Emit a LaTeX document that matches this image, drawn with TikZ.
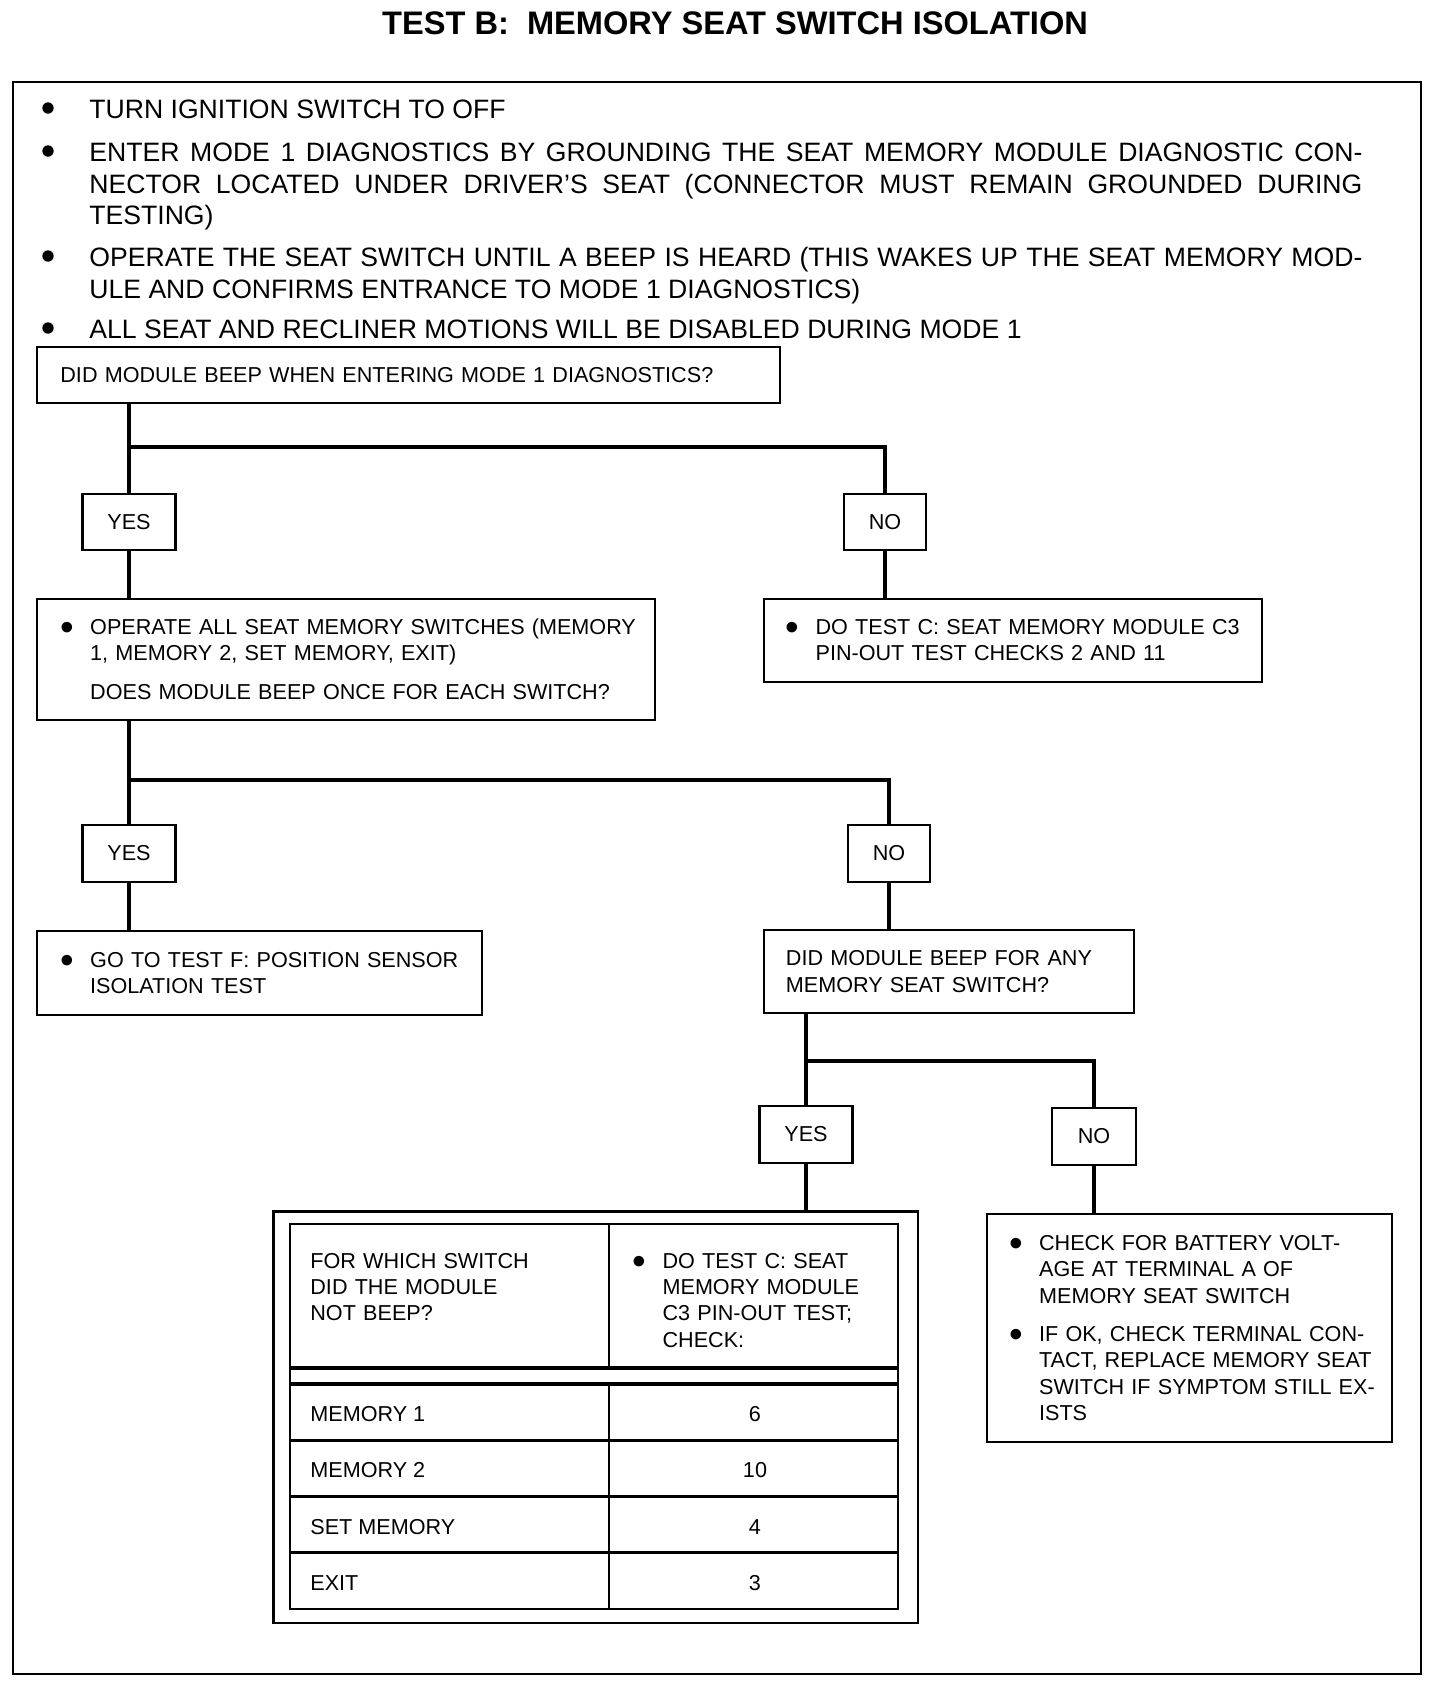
\documentclass[tikz,border=0pt]{standalone}
\usepackage{fontspec}
\setmainfont{Liberation Sans}
\usetikzlibrary{positioning}

\newcommand{\titlefont}{\fontsize{16.3}{19}\selectfont\bfseries}
\newcommand{\listfont}{\fontsize{13.3}{15.8}\selectfont\tolerance=9999\hyphenpenalty=10000\relax}
\newcommand{\boxfont}{\fontsize{10.8}{13.2}\selectfont}
\newcommand{\blob}{\raisebox{-0.28em}{\scalebox{1.8}{\textbullet}}}
\newlength{\bulw}
\setlength{\bulw}{15pt}
\newcommand{\bul}{\makebox[\bulw][l]{\blob}}
\newcommand{\ind}{\hspace*{\bulw}}

\tikzset{
  box/.style={draw, line width=1.1pt, inner sep=0pt},
  answer/.style={box, minimum height=28.5pt, font=\boxfont},
  txt/.style={inner sep=0pt, font=\boxfont, align=left, text width=330pt, anchor=west},
  item/.style={inner sep=0pt, font=\listfont, align=justify, text width=636.5pt, anchor=base west},
  dot/.style={circle, fill, inner sep=0pt, minimum size=5.7pt},
  cell/.style={inner sep=0pt, font=\boxfont},
  link/.style={line width=2pt},
}

\begin{document}
\begin{tikzpicture}[x=0.5pt, y=-0.5pt]
  \useasboundingbox[fill=white] (0,0) rectangle (1440,1688);

  % title and frame
  \node[font=\titlefont, inner sep=0pt] (title) at (735,23) {TEST B:\ \ MEMORY SEAT SWITCH ISOLATION};
  \draw[line width=1pt] (13,82) rectangle (1421,1674);

  % opening steps
  \node[dot] (d1) at (48,108) {};
  \node[item] (s1) at (89,118.5) {TURN IGNITION SWITCH TO OFF};
  \node[dot] (d2) at (48,151) {};
  \node[item] (s2) at (89,161.5) {ENTER MODE 1 DIAGNOSTICS BY GROUNDING THE SEAT MEMORY MODULE DIAGNOSTIC CON-\linebreak NECTOR LOCATED UNDER DRIVER’S SEAT (CONNECTOR MUST REMAIN GROUNDED DURING\linebreak TESTING)};
  \node[dot] (d3) at (48,256) {};
  \node[item] (s3) at (89,266.5) {OPERATE THE SEAT SWITCH UNTIL A BEEP IS HEARD (THIS WAKES UP THE SEAT MEMORY MOD-\linebreak ULE AND CONFIRMS ENTRANCE TO MODE 1 DIAGNOSTICS)};
  \node[dot] (d4) at (48,328) {};
  \node[item] (s4) at (89,338.5) {ALL SEAT AND RECLINER MOTIONS WILL BE DISABLED DURING MODE 1};

  % first question
  \node[box, anchor=north west, minimum width=371.5pt, minimum height=28pt] (q1) at (35.5,346) {};
  \node[txt] (q1t) at ([xshift=12.25pt]q1.west) {DID MODULE BEEP WHEN ENTERING MODE 1 DIAGNOSTICS?};
  \node[answer, minimum width=46.5pt, minimum height=28pt] (yes1) at (129,522) {YES};
  \node[answer, minimum width=41.25pt, minimum height=28pt] (no1) at (885,522) {NO};

  \node[box, anchor=north west, minimum width=309.25pt, minimum height=60.75pt] (q2) at (35.5,597.5) {};
  \node[txt] (q2t) at ([xshift=12.15pt]q2.west) {\bul OPERATE ALL SEAT MEMORY SWITCHES (MEMORY\\\ind 1, MEMORY 2, SET MEMORY, EXIT)\\[6.5pt]\ind DOES MODULE BEEP ONCE FOR EACH SWITCH?};
  \node[box, anchor=north west, minimum width=248.75pt, minimum height=41.75pt] (r1) at (763,597.5) {};
  \node[txt] (r1t) at ([xshift=11.1pt]r1.west) {\bul DO TEST C: SEAT MEMORY MODULE C3\\\ind PIN-OUT TEST CHECKS 2 AND 11};

  % second question
  \node[answer, minimum width=46.5pt] (yes2) at (129,853.5) {YES};
  \node[answer, minimum width=41.25pt] (no2) at (889,853.5) {NO};
  \node[box, anchor=north west, minimum width=222.75pt, minimum height=42.25pt] (r2) at (35.5,929.5) {};
  \node[txt] (r2t) at ([xshift=12.15pt]r2.west) {\bul GO TO TEST F: POSITION SENSOR\\\ind ISOLATION TEST};
  \node[box, anchor=north west, minimum width=184.8pt, minimum height=41.75pt] (q3) at (763,928.5) {};
  \node[txt] (q3t) at ([xshift=11.25pt]q3.west) {DID MODULE BEEP FOR ANY\\MEMORY SEAT SWITCH?};

  % third question
  \node[answer, minimum width=46.5pt] (yes3) at (806,1134.5) {YES};
  \node[answer, minimum width=42pt] (no3) at (1094,1136.5) {NO};
  \node[box, anchor=north west, minimum width=202.5pt, minimum height=114pt] (r3) at (985.5,1213) {};
  \node[txt] (r3t) at ([xshift=11.6pt]r3.west) {\bul CHECK FOR BATTERY VOLT-\\\ind AGE AT TERMINAL A OF\\\ind MEMORY SEAT SWITCH\\[6pt]\bul IF OK, CHECK TERMINAL CON-\\\ind TACT, REPLACE MEMORY SEAT\\\ind SWITCH IF SYMPTOM STILL EX-\\\ind ISTS};

  % pin-out table
  \node[box, line width=1.3pt, anchor=north west, minimum width=322.3pt, minimum height=205.8pt] (tab) at (272,1210) {};
  \draw[line width=1.2pt] (290,1224) rectangle (898,1609);
  \draw[line width=1.6pt] (290,1368) -- (898,1368) (290,1384) -- (898,1384);
  \draw[line width=1.2pt] (609,1224) -- (609,1368) (609,1384) -- (609,1609);
  \foreach \y in {1440.25,1496.5,1552.75}
    \draw[line width=1.3pt] (290,\y) -- (898,\y);
  \node[txt, anchor=base west] (th1) at (310,1268) {FOR WHICH SWITCH\\DID THE MODULE\\NOT BEEP?};
  \node[txt, anchor=base west] (th2) at (632.2,1268) {\bul DO TEST C: SEAT\\\ind MEMORY MODULE\\\ind C3 PIN-OUT TEST;\\\ind CHECK:};
  \foreach \i/\sw/\pin in {1/MEMORY 1/6, 2/MEMORY 2/10, 3/SET MEMORY/4, 4/EXIT/3} {
    \node[cell, anchor=west] (sw\i) at (310,{1386+56.25*(\i-0.5)}) {\sw};
    \node[cell] (pin\i) at (755,{1386+56.25*(\i-0.5)}) {\pin};
  }

  % connectors
  \coordinate (j1) at (129,447);
  \coordinate (j2) at (129,780);
  \coordinate (j3) at (806,1060.6);
  \draw[link] (q1.south -| yes1) -- (yes1.north);
  \draw[link] (j1) -| (no1.north);
  \draw[link] (yes1.south) -- (yes1.south |- q2.north);
  \draw[link] (no1.south) -- (no1.south |- r1.north);
  \draw[link] (q2.south -| yes2) -- (yes2.north);
  \draw[link] (j2) -| (no2.north);
  \draw[link] (yes2.south) -- (yes2.south |- r2.north);
  \draw[link] (no2.south) -- (no2.south |- q3.north);
  \draw[link] (q3.south -| yes3) -- (yes3.north);
  \draw[link] (j3) -| (no3.north);
  \draw[link] (yes3.south) -- (yes3.south |- tab.north);
  \draw[link] (no3.south) -- (no3.south |- r3.north);
\end{tikzpicture}
\end{document}
